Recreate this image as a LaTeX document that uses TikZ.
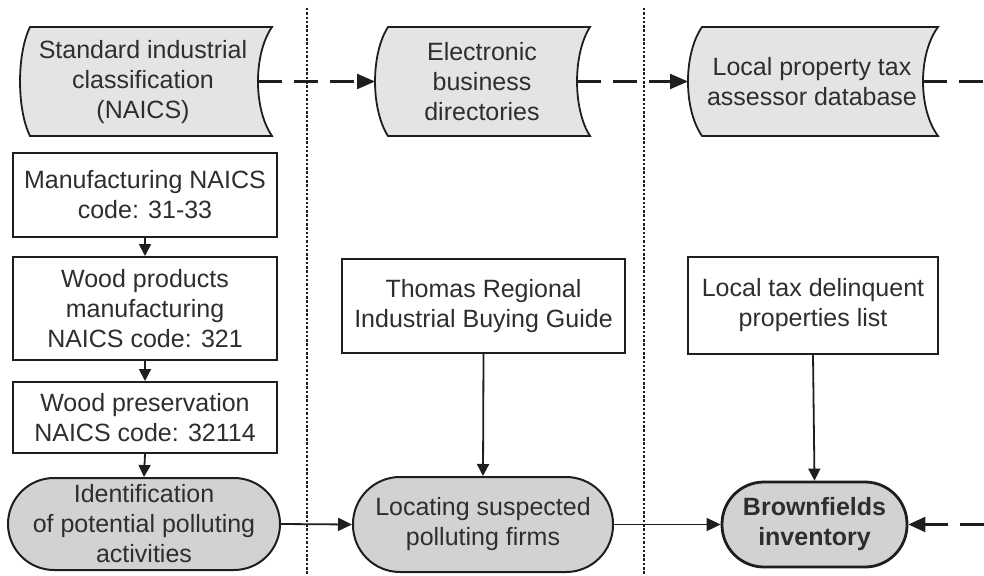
\documentclass[tikz,border=0pt]{standalone}
\usepackage{fontspec}
\setmainfont{Liberation Sans}
\usetikzlibrary{arrows.meta}
\definecolor{txt}{HTML}{2E2E2E}
\definecolor{ln}{HTML}{1E1E1E}
\definecolor{tapefill}{HTML}{E4E4E4}
\definecolor{termfill}{HTML}{D2D2D2}
\tikzset{
  lbl/.style={font=\fontsize{25}{30}\selectfont, text=txt, align=center, inner sep=0pt},
  boxnode/.style={lbl, draw=ln, line width=2pt, fill=white},
  termnode/.style={lbl, draw=ln, line width=2pt, fill=termfill},
  tape/.style={draw=ln, line width=1.8pt, fill=tapefill},
  conn/.style={draw=ln, line width=1.8pt, -{Triangle[length=14pt,width=13pt]}},
  smallconn/.style={draw=ln, line width=1.8pt, -{Triangle[length=12pt,width=12pt]}},
  dashconn/.style={draw=ln, line width=2.2pt, dash pattern=on 24pt off 12pt},
  sep/.style={draw=ln, line width=2.6pt, dash pattern=on 2.5pt off 1.8pt},
}
\begin{document}
\begin{tikzpicture}[x=1pt,y=-1pt]
\fill[white] (0,0) rectangle (984,575);
\useasboundingbox (0,0) rectangle (984,575);

% separators
\coordinate (d1t) at (307,8);
\coordinate (d1b) at (307,575);
\coordinate (d2t) at (644,8);
\coordinate (d2b) at (644,575);
\draw[sep] (d1t) -- (d1b);
\draw[sep] (d2t) -- (d2b);

% tape shapes
\draw[tape] (30,27) -- (272,27) .. controls (253.3,54) and (253.3,109) .. (272,136)
  -- (30,136) .. controls (16.7,109) and (16.7,54) .. (30,27) -- cycle;
\draw[tape] (388,27) -- (590,27) .. controls (572.7,54) and (572.7,109) .. (590,136)
  -- (388,136) .. controls (370.7,109) and (370.7,54) .. (388,27) -- cycle;
\draw[tape] (702,27) -- (938,27) .. controls (918,54) and (918,109) .. (938,136)
  -- (702,136) .. controls (683.3,109) and (683.3,54) .. (702,27) -- cycle;
\coordinate (s1r) at (258,81.5);
\coordinate (s2l) at (375,81.5);
\coordinate (s2r) at (577,81.5);
\coordinate (s3l) at (688,81.5);
\coordinate (s3r) at (923,81.5);
\coordinate (te) at (984,81.5);
\node[lbl] (s1) at (143,82) {Standard industrial\\classification\\(NAICS)};
\node[lbl] (s2) at (482,82) {Electronic\\business\\directories};
\node[lbl] (s3) at (812,82) {Local property tax\\assessor database};

% left column boxes
\node[boxnode, minimum width=264pt, minimum height=84pt] (b1) at (145,195) {Manufacturing NAICS\\code: 31-33};
\node[boxnode, minimum width=264pt, minimum height=103pt] (b2) at (145,308.5) {Wood products\\manufacturing\\NAICS code: 321};
\node[boxnode, minimum width=264pt, minimum height=71pt] (b3) at (145,417.5) {Wood preservation\\NAICS code: 32114};

% middle/right boxes
\node[boxnode, minimum width=283pt, minimum height=94pt] (tr) at (483.5,306) {Thomas Regional\\Industrial Buying Guide};
\node[boxnode, minimum width=250pt, minimum height=97pt] (lt) at (813,305.5) {Local tax delinquent\\properties list};

% terminals
\node[termnode, minimum width=272pt, minimum height=92pt, rounded corners=46pt] (t1) at (144,524) {Identification\\of potential polluting\\activities};
\node[termnode, minimum width=260pt, minimum height=95pt, rounded corners=47pt] (t2) at (483,524.5) {Locating suspected\\polluting firms};
\node[termnode, line width=2.8pt, minimum width=185pt, minimum height=85pt, rounded corners=42pt, font=\fontsize{25}{30}\selectfont\bfseries] (t3) at (814.5,524.5) {Brownfields\\inventory};
\coordinate (re) at (984,524.5);

% connectors
\draw[smallconn] (b1.south) -- (b2.north);
\draw[smallconn] (b2.south) -- (b3.north);
\draw[smallconn] (b3.south) -- (t1.north);
\draw[conn] (t1.east) -- (t2.west);
\draw[conn] (t2.east) -- (t3.west);
\draw[smallconn] (tr.south) -- (t2.north);
\draw[smallconn] (lt.south) -- (t3.north);

\draw[dashconn, -{Triangle[length=18pt,width=15pt]}] (s1r) -- (s2l);
\draw[dashconn, -{Triangle[length=18pt,width=15pt]}] (s2r) -- (s3l);
\draw[dashconn] (s3r) -- (te);
\draw[dashconn, -{Triangle[length=17pt,width=15pt]}] (re) -- (t3.east);
\end{tikzpicture}
\end{document}
